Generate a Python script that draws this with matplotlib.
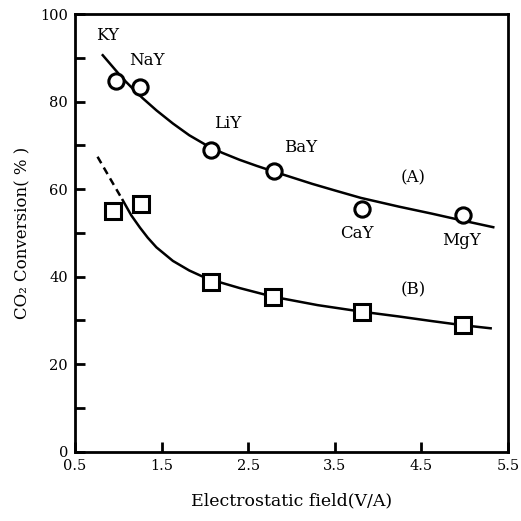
import numpy as np
import matplotlib.pyplot as plt

# measured points
zeolite = ['KY', 'NaY', 'LiY', 'BaY', 'CaY', 'MgY']
field_a = [0.97, 1.25, 2.07, 2.80, 3.81, 4.98]
conv_a = [84.8, 83.3, 68.9, 64.2, 55.5, 54.2]

field_b = [0.94, 1.26, 2.07, 2.79, 3.81, 4.98]
conv_b = [55.0, 56.6, 38.8, 35.3, 31.9, 28.9]

# fitted curves
curve_a_x = [0.82, 1.05, 1.17, 1.28, 1.44, 1.63, 1.82, 2.02, 2.20, 2.40, 2.60, 2.86,
             3.24, 3.50, 3.80, 4.24, 4.62, 4.98, 5.33]
curve_a_y = [90.6, 85.3, 82.9, 80.8, 78.0, 75.0, 72.3, 70.0, 68.3, 66.7, 65.3, 63.6,
             61.2, 59.7, 58.0, 56.0, 54.4, 52.8, 51.3]

curve_b_dash_x = [0.76, 0.9, 1.05]
curve_b_dash_y = [67.4, 62.6, 57.5]
curve_b_x = [1.05, 1.15, 1.25, 1.34, 1.44, 1.63, 1.82, 2.02, 2.40, 2.79, 3.30, 3.81,
             4.24, 4.62, 4.98, 5.30]
curve_b_y = [57.5, 54.0, 51.2, 48.9, 46.7, 43.6, 41.4, 39.6, 37.4, 35.4, 33.5, 32.0,
             30.9, 29.85, 28.9, 28.2]

label_pos = [(0.88, 95.0), (1.33, 89.5), (2.26, 75.0), (3.11, 69.5), (3.75, 49.8), (4.96, 48.2)]

plt.rcParams['font.family'] = ['DejaVu Serif']
plt.rcParams['font.size'] = 10.5

fig = plt.figure(figsize=(5.21, 5.21), dpi=100)
ax = fig.add_axes([0.144, 0.133, 0.831, 0.840])

ax.plot(curve_a_x, curve_a_y, color='black', lw=1.8)
ax.plot(curve_b_dash_x, curve_b_dash_y, color='black', lw=1.8, ls=(0, (3, 2)))
ax.plot(curve_b_x, curve_b_y, color='black', lw=1.8)

ax.plot(field_a, conv_a, 'o', ms=11, mfc='white', mec='black', mew=2.2, zorder=3)
ax.plot(field_b, conv_b, 's', ms=11, mfc='white', mec='black', mew=2.2, zorder=3)

for name, (lx, ly) in zip(zeolite, label_pos):
    ax.text(lx, ly, name, ha='center', va='center', fontsize=12)
ax.text(4.41, 62.5, '(A)', ha='center', va='center', fontsize=12)
ax.text(4.41, 37.0, '(B)', ha='center', va='center', fontsize=12)

ax.set_xlim(0.5, 5.5)
ax.set_ylim(0, 100)
ax.set_xticks([0.5, 1.5, 2.5, 3.5, 4.5, 5.5])
ax.set_xticklabels(['0.5', '1.5', '2.5', '3.5', '4.5', '5.5'])
ax.set_yticks(np.arange(0, 101, 20))
ax.set_yticks(np.arange(10, 100, 20), minor=True)
ax.tick_params(which='both', direction='in', length=7, width=2, pad=5)
for s in ax.spines.values():
    s.set_linewidth(2)

ax.set_xlabel('Electrostatic field(V/A)', fontsize=12.5, labelpad=14)
ax.set_ylabel('CO\u2082 Conversion( % )', fontsize=12, labelpad=6)

fig.savefig('out.png', dpi=100)
